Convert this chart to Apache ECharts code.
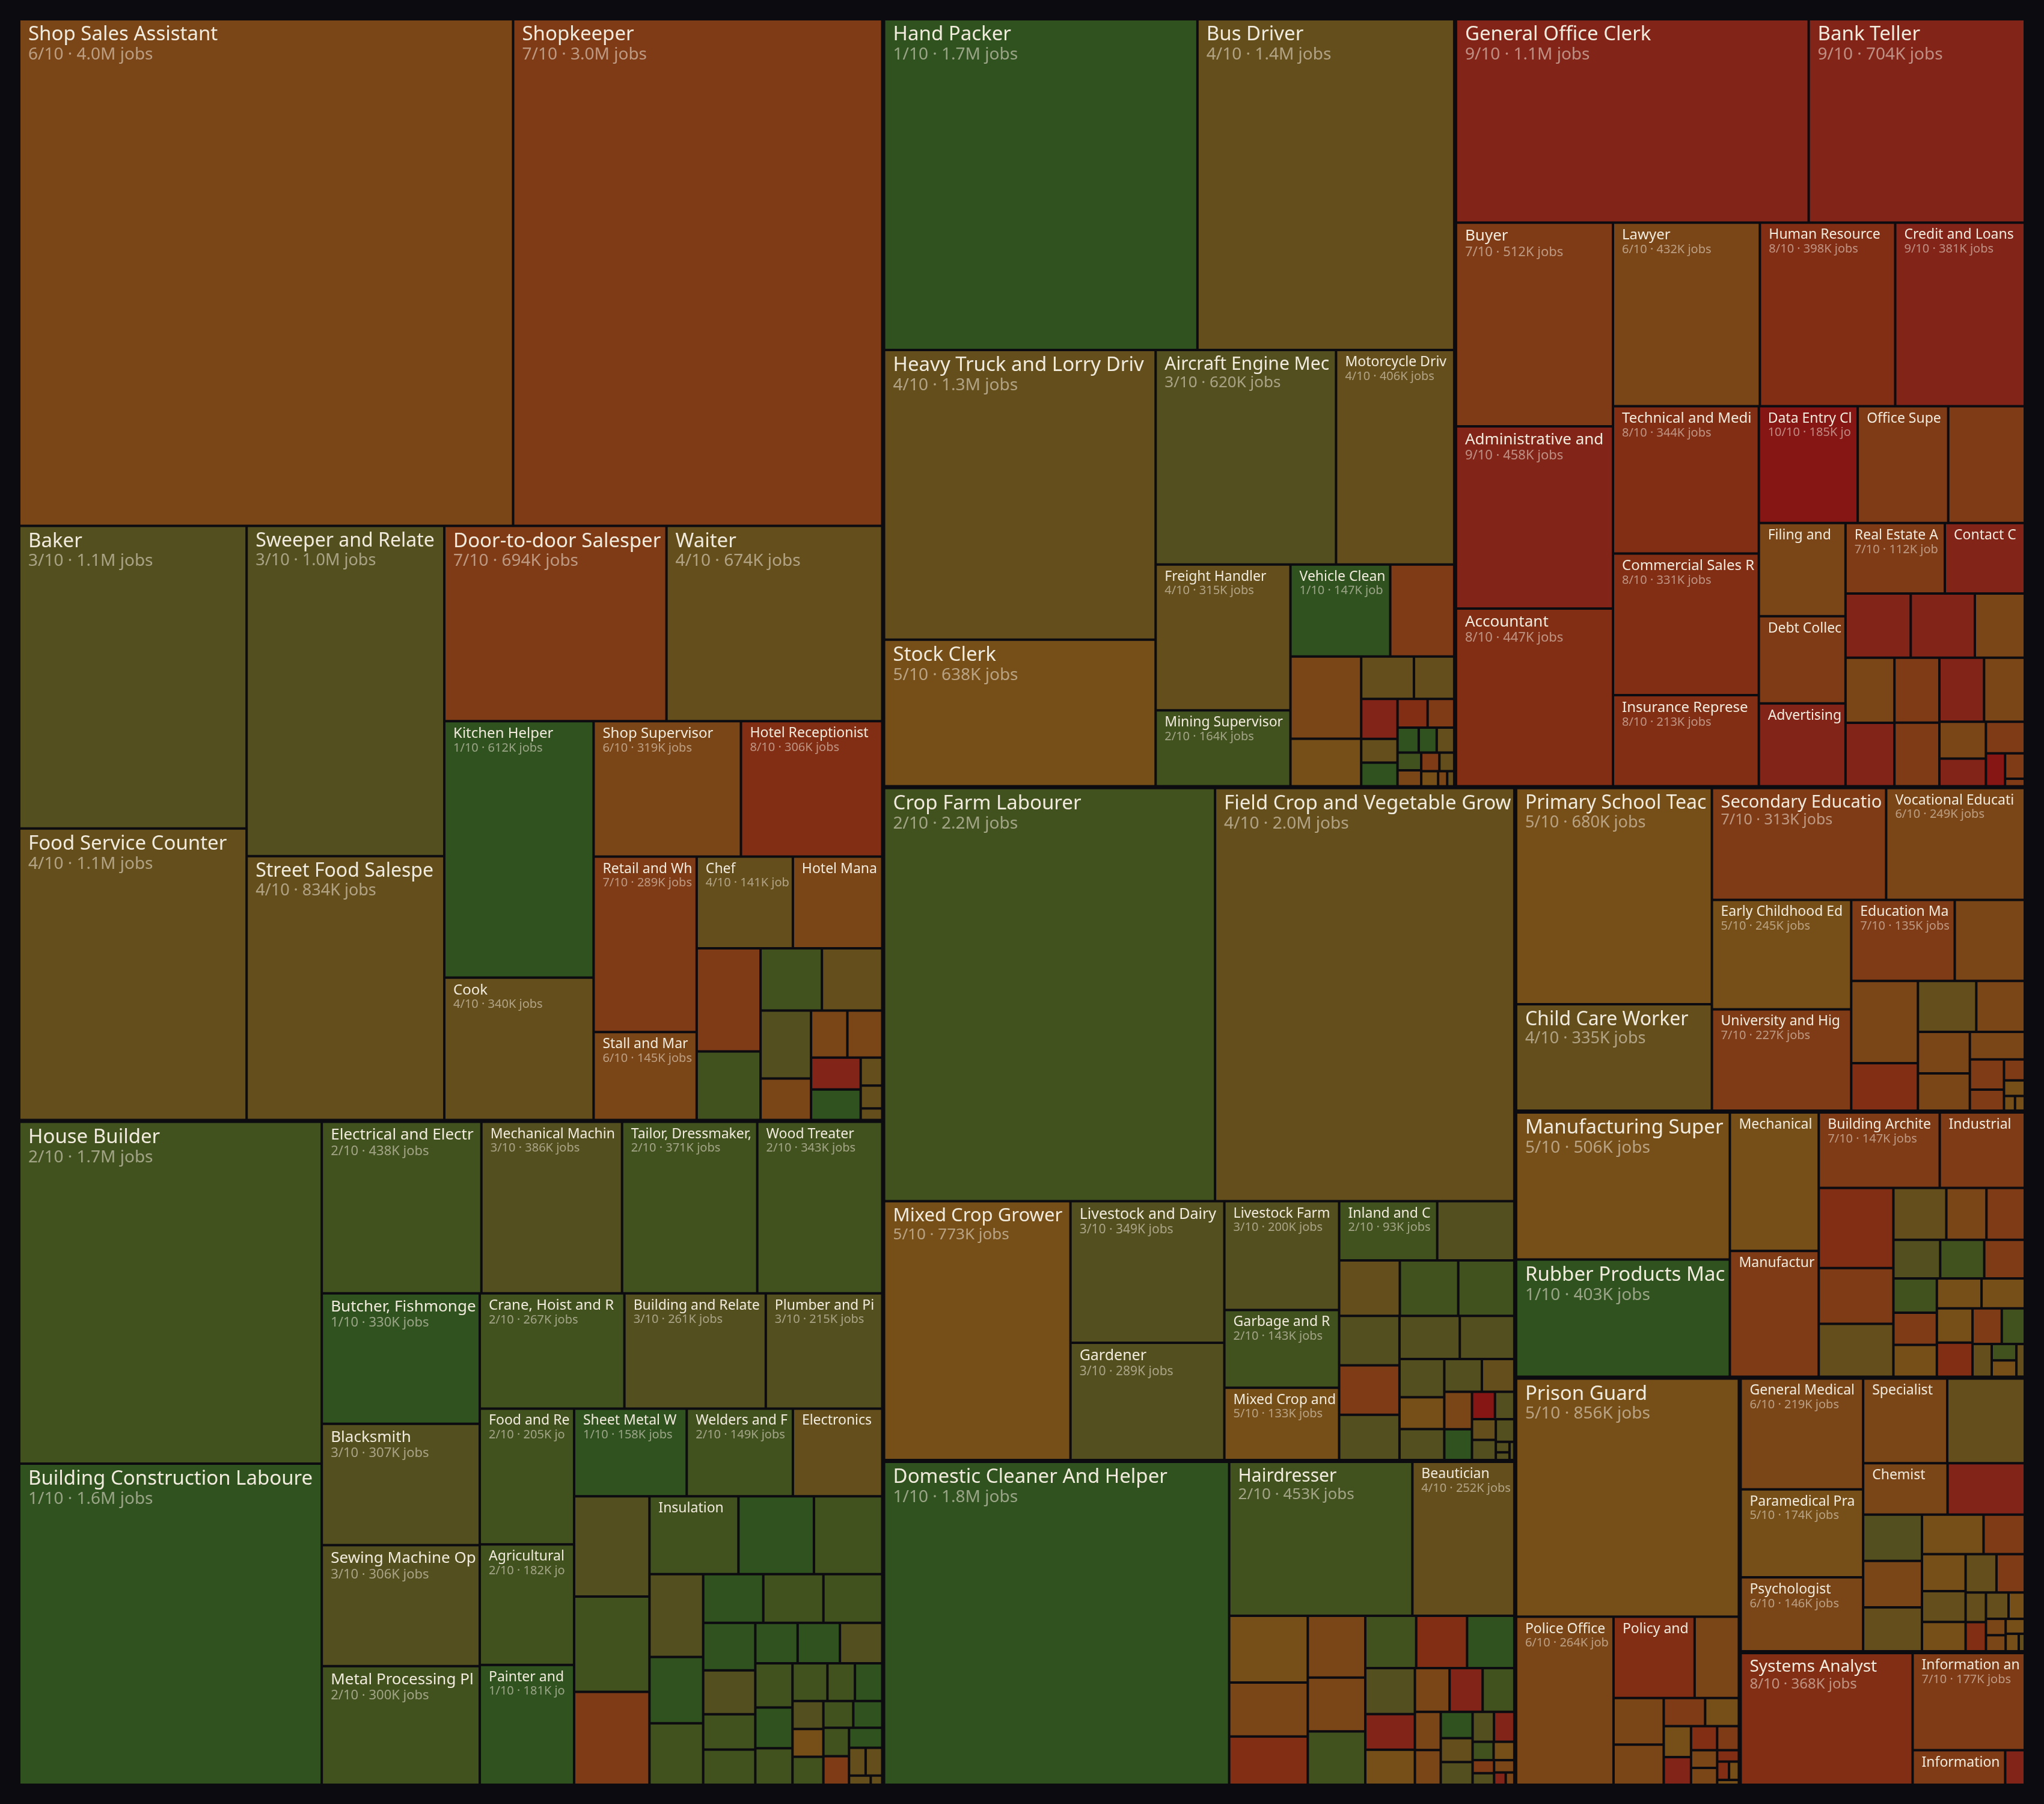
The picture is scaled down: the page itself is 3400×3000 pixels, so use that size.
<!DOCTYPE html>
<html>
<head>
<meta charset="utf-8">
<title>Jobs treemap</title>
<script src="https://cdn.jsdelivr.net/npm/echarts@6/dist/echarts.min.js"></script>
<style>
  html, body { margin: 0; padding: 0; background: #0b0b10; }
  #chart { width: 3400px; height: 3000px; }
</style>
</head>
<body>
<div id="chart"></div>
<script>
// jobs in thousands, score = exposure out of 10
const groupNames = ['Sales and Hospitality', 'Crafts and Construction', 'Transport and Logistics', 'Office and Finance',
  'Agriculture', 'Personal Services', 'Education', 'Engineering and Manufacturing', 'Public Safety', 'Health', 'Information Technology']

const salesNames = ['Shop Sales Assistant', 'Shopkeeper', 'Baker', 'Food Service Counter Attendant', 'Sweeper and Related Labourer',
  'Street Food Salesperson', 'Door-to-door Salesperson', 'Waiter', 'Kitchen Helper', 'Cook', 'Shop Supervisor', 'Hotel Receptionist',
  'Retail and Wholesale Trade Manager', 'Stall and Market Salesperson', 'Chef', 'Hotel Manager', 'Sales Demonstrator', 'Dishwasher',
  'Fast Food Preparer', 'Bartender', 'Street Vendor (Non-food)', 'Rental Salesperson', 'Sales Agent', 'Visual Merchandiser',
  'Ticket Clerk', 'Hotel Cleaner', 'Barista', 'Sommelier', 'Tour Guide']
const salesJobs = [4000, 2990, 1100, 1060, 1044, 834, 694, 674, 612, 340, 319, 306, 289, 145, 141, 131, 105.3, 70.1, 61, 60,
  54.9, 33.5, 27.4, 26.3, 25.2, 24.3, 9.6, 7.9, 4]
const salesScores = [6, 7, 3, 4, 3, 4, 7, 4, 1, 4, 6, 8, 7, 6, 4, 6, 7, 2, 2, 4, 3, 6, 6, 6, 9, 1, 4, 4, 4]

const craftNames = ['House Builder', 'Building Construction Labourer', 'Electrical and Electronic Equipment Mechanic',
  'Mechanical Machinery Assembler', 'Tailor, Dressmaker, Furrier and Hatter', 'Wood Treater',
  'Butcher, Fishmonger and Related Food Preparer', 'Blacksmith', 'Sewing Machine Operator', 'Metal Processing Plant Operator',
  'Crane, Hoist and Related Plant Operator', 'Building and Related Electrician', 'Plumber and Pipe Fitter',
  'Food and Related Products Machine Operator', 'Agricultural and Industrial Machinery Mechanic', 'Painter and Related Worker',
  'Sheet Metal Worker', 'Welders and Flamecutters', 'Electronics Mechanic', 'Concrete Placer', 'Roofer', 'Draughtsperson',
  'Insulation Worker', 'Bricklayer', 'Carpenter and Joiner', 'Motor Vehicle Mechanic', 'Stonemason', 'Floor Layer and Tile Setter',
  'Plasterer', 'Scaffolder', 'Glazier', 'Well Driller', 'Toolmaker', 'Upholsterer', 'Shoemaker', 'Machine Tool Setter',
  'Miner and Quarrier', 'Demolition Worker', 'Furniture Maker', 'Structural Steel Erector', 'Pottery Worker', 'Glass Maker',
  'Jewellery Maker', 'Road Construction Labourer', 'Weaver', 'Printing Technician', 'Musical Instrument Maker', 'Leather Worker',
  'Log Cutter', 'Sign Writer', 'Basket Maker', 'Pile Driver Operator', 'Precision Instrument Maker', 'Watch Repairer', 'Gunsmith', 'Engraver']
const craftJobs = [1655, 1555, 438, 386, 371, 343, 330, 307, 306, 300, 267, 261, 215, 205, 182, 181, 158, 149, 125.4, 121,
  115, 112, 111, 94.2, 85.2, 71.1, 57, 52.9, 46.8, 46.8, 45.8, 39.7, 36.6, 29.4, 29.4, 27.4, 27.4, 27.4, 26.3, 24.3,
  21.7, 21.1, 16.6, 16.5, 13.8, 13.8, 13.8, 12.8, 12.4, 11.7, 11.7, 10.6, 7.4, 7.4, 3.2, 1.7]
const craftScores = [2, 1, 2, 3, 2, 2, 1, 3, 3, 2, 2, 3, 3, 2, 2, 1, 1, 2, 4, 3, 2, 7, 2, 1, 2, 3, 1, 2, 2, 1, 2, 1, 3, 2, 2, 3, 1, 1, 2, 1,
  2, 2, 2, 1, 2, 5, 3, 2, 1, 7, 2, 1, 4, 4, 4, 4]

const transportNames = ['Hand Packer', 'Bus Driver', 'Heavy Truck and Lorry Driver', 'Stock Clerk', 'Aircraft Engine Mechanic',
  'Motorcycle Driver', 'Freight Handler', 'Mining Supervisor', 'Vehicle Cleaner', 'Shipping Clerk', 'Transport Clerk', 'Courier',
  'Car Driver', 'Taxi Driver', 'Dispatcher', 'Logistics Coordinator', 'Railway Track Worker', 'Train Driver', 'Air Traffic Controller',
  'Ship Deck Crew', 'Travel Steward', 'Animal-drawn Vehicle Driver', 'Forklift Operator', 'Earthmoving Plant Operator',
  'Flight Attendant', 'Ship Engineer', 'Aircraft Pilot', 'Harbour Master', 'Lifting Truck Operator']
const transportJobs = [1660, 1360, 1260, 638, 620, 406, 315, 164, 147, 94.2, 93.2, 53.9, 35.9, 27.4, 23.2, 13.8, 13.8, 13.8, 12.2,
  8.5, 6.1, 7.2, 7, 6.7, 5.4, 4.4, 4.1, 2.2, 1.7]
const transportScores = [1, 4, 4, 5, 3, 4, 4, 2, 1, 7, 6, 5, 4, 4, 9, 8, 1, 4, 7, 1, 6, 1, 4, 2, 7, 4, 5, 6, 4]

const officeNames = ['General Office Clerk', 'Bank Teller', 'Buyer', 'Administrative and Executive Secretary', 'Accountant', 'Lawyer',
  'Human Resource Manager', 'Credit and Loans Officer', 'Technical and Medical Sales Representative', 'Commercial Sales Representative',
  'Insurance Representative', 'Data Entry Clerk', 'Office Supervisor', 'Purchasing Agent', 'Filing and Copying Clerk', 'Debt Collector',
  'Real Estate Agent', 'Advertising and Marketing Professional', 'Contact Centre Information Clerk', 'Bookkeeper', 'Statistical Clerk',
  'Legal Secretary', 'Management Consultant', 'Tax Clerk', 'Financial Analyst', 'Payroll Clerk', 'Market Research Analyst', 'Auditor',
  'Public Relations Professional', 'Typist', 'Claims Clerk', 'Word Processing Operator', 'Translator', 'Actuary']
const officeJobs = [1149, 704, 512, 458, 447, 432, 398, 381, 344, 331, 213, 185, 169.3, 143.2, 129.3, 121.2, 112, 115.1, 90.2, 67.1,
  66, 51.4, 50.9, 49.8, 46.8, 45.8, 45.8, 41.7, 27.4, 20.7, 19.7, 10.1, 8, 2.4]
const officeScores = [9, 9, 7, 9, 8, 6, 8, 9, 8, 8, 8, 10, 7, 7, 6, 7, 7, 9, 9, 9, 9, 6, 6, 9, 7, 9, 7, 6, 6, 9, 7, 10, 7, 7]

const agriNames = ['Crop Farm Labourer', 'Field Crop and Vegetable Grower', 'Mixed Crop Grower', 'Livestock and Dairy Producer',
  'Gardener', 'Livestock Farm Labourer', 'Garbage and Recycling Collector', 'Mixed Crop and Animal Producer',
  'Inland and Coastal Waters Fishery Worker', 'Poultry Producer', 'Tree and Shrub Crop Grower', 'Forestry Labourer', 'Fishery Labourer',
  'Agricultural Technician', 'Subsistence Farmer', 'Nursery Grower', 'Aquaculture Worker', 'Apiarist', 'Fruit Picker', 'Horticulturist',
  'Deep-sea Fishery Worker', 'Shepherd', 'Forestry Worker', 'Agricultural Manager', 'Charcoal Maker', 'Farm Records Clerk',
  'Irrigation Worker', 'Veterinary Assistant', 'Mushroom Grower', 'Sericulture Worker', 'Gatherer', 'Seaweed Farmer', 'Pearl Diver']
const agriJobs = [2190, 1980, 773, 349, 289, 200, 143, 133, 93, 73.1, 53.9, 51.9, 49.8, 47.8, 47.8, 43.8, 41.7, 37.7, 27.4, 22.9,
  22.2, 19.7, 17, 16.6, 13.7, 10.1, 8.5, 7.9, 7.7, 6.7, 2.3, 1.7, 1.4]
const agriScores = [2, 4, 5, 3, 3, 3, 2, 5, 2, 3, 4, 2, 2, 7, 3, 3, 3, 3, 3, 5, 3, 3, 4, 6, 1, 10, 3, 4, 3, 3, 3, 3, 3]

const serviceNames = ['Domestic Cleaner And Helper', 'Hairdresser', 'Beautician', 'Personal Care Worker', 'Laundry Supervisor',
  'Travel Consultant', 'Housekeeping Supervisor', 'Fitness Instructor', 'Laundry Worker', 'Personal Assistant', 'Hand Launderer',
  'Car Washer', 'Massage Therapist', 'Event Planner', 'Tailoring Assistant', 'Funeral Director', 'Wedding Planner', 'Pet Groomer',
  'Spa Manager', 'Undertaker', 'Shoe Shiner', 'Nail Technician', 'Makeup Artist', 'Embalmer', 'Companion', 'Window Cleaner', 'Butler',
  'Valet', 'Tattoo Artist', 'Dog Walker', 'Fortune Teller', 'Chauffeur']
const serviceJobs = [1790, 453, 252, 84.2, 68.1, 61, 57, 49.8, 49.3, 42.8, 42.8, 39.7, 36.6, 28.4, 27.9, 24.3, 23.2, 22.2, 15.9,
  14.4, 13.5, 12.2, 11.6, 10.3, 9.8, 6.2, 6.1, 4.5, 4, 4, 2.3, 1.7]
const serviceScores = [1, 2, 4, 5, 6, 8, 6, 6, 2, 8, 2, 1, 3, 9, 5, 6, 9, 2, 6, 6, 1, 4, 3, 3, 9, 2, 5, 7, 6, 3, 9, 6]

const eduNames = ['Primary School Teacher', 'Child Care Worker', 'Secondary Education Teacher', 'Vocational Education Teacher',
  'Early Childhood Educator', 'University and Higher Education Teacher', 'Education Manager', 'Special Needs Teacher',
  'Language Teacher', 'Education Methods Specialist', 'Music Teacher', 'Art Teacher', 'Private Tutor', 'Teaching Assistant',
  'School Inspector', 'Librarian', 'Curriculum Developer', 'Archivist', 'Driving Instructor', 'Dance Teacher', 'Sports Coach']
const eduJobs = [680, 335, 313, 249, 245, 227, 135, 91.3, 88.2, 50.9, 47.8, 39.7, 34.6, 31.1, 24.3, 16.6, 11.5, 7, 5.2, 2.6, 2.3]
const eduScores = [5, 4, 7, 6, 5, 7, 7, 6, 6, 8, 4, 6, 6, 6, 6, 7, 7, 7, 5, 5, 5]

const engNames = ['Manufacturing Supervisor', 'Rubber Products Machine Operator', 'Mechanical Engineer', 'Manufacturing Manager',
  'Building Architect', 'Industrial and Production Engineer', 'Quality Control Inspector', 'Civil Engineer', 'Electrical Engineer',
  'Chemical Engineer', 'Production Planner', 'Mining Engineer', 'Textile Machine Operator', 'Paper Products Machine Operator',
  'Environmental Engineer', 'Chemical Plant Operator', 'Cost Estimator', 'Electronics Engineer', 'Surveyor', 'Product Designer',
  'Metallurgist', 'Technical Writer', 'Materials Engineer', 'Glass Furnace Operator', 'Cement Plant Operator', 'Packaging Designer',
  'Printing Press Operator', 'Power Plant Operator']
const engJobs = [506, 403, 198, 180, 147, 103.3, 96.3, 67.1, 63.5, 44.2, 33.5, 32, 29.1, 27.4, 25.2, 24, 22.5, 22.2, 21.5, 20.8,
  19.7, 19.5, 16.8, 13.2, 10.1, 6.5, 6.5, 4.4]
const engScores = [5, 1, 5, 7, 7, 7, 8, 7, 4, 4, 6, 7, 3, 2, 7, 2, 7, 5, 5, 5, 5, 8, 7, 2, 4, 5, 2, 4]

const safetyNames = ['Prison Guard', 'Police Officer', 'Policy and Planning Manager', 'Fire Inspector', 'Customs Officer',
  'Immigration Officer', 'Tax Inspector', 'Firefighter', 'Private Investigator', 'Government Licensing Official',
  'Social Benefits Official', 'Court Clerk', 'Detective', 'Legislator', 'Regulatory Officer', 'Election Official', 'Lifeguard', 'Bodyguard']
const safetyJobs = [856, 264, 106.3, 58, 37.7, 32.5, 18.8, 15.3, 13.6, 12.2, 10.1, 8.4, 7.5, 7.1, 4, 3.5, 2.9, 1.7]
const safetyScores = [5, 6, 8, 6, 6, 6, 7, 5, 5, 9, 8, 7, 6, 6, 8, 8, 5, 5]

const healthNames = ['General Medical Practitioner', 'Paramedical Practitioner', 'Psychologist', 'Specialist Medical Practitioner',
  'Nursing Professional', 'Chemist', 'Medical Records Technician', 'Pharmacist', 'Midwife', 'Dentist', 'Physiotherapist',
  'Medical Laboratory Technician', 'Dietitian', 'Veterinarian', 'Audiologist', 'Optometrist', 'Radiographer', 'Dental Assistant',
  'Ambulance Worker', 'Medical Coder', 'Speech Therapist', 'Traditional Medicine Practitioner', 'Pharmacy Technician',
  'Occupational Therapist', 'Community Health Worker', 'Podiatrist']
const healthJobs = [219, 174, 146, 115, 106, 70, 64, 44, 44, 41.7, 39.3, 26.3, 26, 21.8, 20.6, 19.1, 17.5, 9.7, 9.6, 9.6,
  6.9, 5.2, 5.1, 4.6, 3.7, 1.7]
const healthScores = [6, 5, 6, 6, 4, 6, 9, 6, 3, 4, 5, 7, 5, 4, 5, 4, 7, 4, 4, 8, 5, 6, 6, 5, 5, 4]

const itNames = ['Systems Analyst', 'Information and Communications Technology Manager', 'Information Security Analyst', 'Web Developer']
const itJobs = [368, 177, 52, 11]
const itScores = [8, 7, 7, 9]

// colour per score 1..10, green (low) to red (high)
const scoreColors = ['#30521f', '#42521e', '#544f1e', '#644f1c', '#764f18', '#7b4617', '#7f3a16', '#822e15', '#822418', '#851614']

const groups = [
  [salesNames, salesJobs, salesScores],
  [craftNames, craftJobs, craftScores],
  [transportNames, transportJobs, transportScores],
  [officeNames, officeJobs, officeScores],
  [agriNames, agriJobs, agriScores],
  [serviceNames, serviceJobs, serviceScores],
  [eduNames, eduJobs, eduScores],
  [engNames, engJobs, engScores],
  [safetyNames, safetyJobs, safetyScores],
  [healthNames, healthJobs, healthScores],
  [itNames, itJobs, itScores]
]

const bg = '#0b0b10'
const font = 'Noto Sans'
const padLeft = 13

const treeData = groups.map((g, gi) => ({
  name: groupNames[gi],
  children: g[0].map((n, i) => ({
    name: n,
    value: g[1][i],
    score: g[2][i],
    itemStyle: { color: scoreColors[g[2][i] - 1] }
  }))
}))

const fmtJobs = (k) => (k >= 1000 ? (k / 1000).toFixed(1) + 'M' : Math.round(k) + 'K')
const statSize = (f) => Math.round(f * 0.85)

const rich = {}
for (let f = 23; f <= 33; f++) {
  const sf = statSize(f)
  rich['n' + f] = { fontSize: f, lineHeight: Math.round(f * 1.1), color: '#f1ebdd', fontFamily: font }
  rich['s' + f] = { fontSize: sf, lineHeight: Math.round(sf * 1.08), color: 'rgba(240,232,218,0.55)', fontFamily: font }
}

// cut a label so it ends at the cell edge, like a clipped text
const measureCtx = document.createElement('canvas').getContext('2d')
function fitText(text, size, maxW) {
  measureCtx.font = size + 'px "' + font + '"'
  if (measureCtx.measureText(text).width <= maxW) return text
  let out = ''
  for (const ch of text) {
    if (measureCtx.measureText(out + ch).width > maxW) break
    out += ch
  }
  return out
}

const chart = echarts.init(document.getElementById('chart'))

// size of a cell after the treemap layout ran
function cellSize(p) {
  try {
    const data = chart.getModel().getSeriesByIndex(0).getData()
    const l = data.tree.getNodeByDataIndex(p.dataIndex).getLayout()
    if (l && l.width) return [l.width, l.height]
  } catch (e) {}
  const side = Math.sqrt(p.value * 170)
  return [side, side]
}

chart.setOption({
  backgroundColor: bg,
  animation: false,
  tooltip: { show: false },
  series: [
    {
      type: 'treemap',
      left: 34,
      top: 34,
      right: 34,
      bottom: 34,
      roam: false,
      nodeClick: false,
      squareRatio: 1,
      drillDownIcon: '',
      breadcrumb: { show: false },
      visibleMin: 0,
      upperLabel: { show: false },
      label: {
        show: true,
        position: 'insideTopLeft',
        distance: 0,
        padding: [6, 1, 0, padLeft],
        overflow: 'truncate',
        ellipsis: '',
        fontFamily: font,
        formatter: (p) => {
          if (!p.data || p.data.children) return ''
          const [w, h] = cellSize(p)
          if (w < 128 || h < 40) return ''
          const f = Math.round(Math.max(23, Math.min(33, w / 10)))
          const room = w - padLeft - 3
          let s = '{n' + f + '|' + fitText(p.name, f, room) + '}'
          if (w >= 150 && h >= 72) {
            const stat = p.data.score + '/10 · ' + fmtJobs(p.value) + ' jobs'
            s += '\n{s' + f + '|' + fitText(stat, statSize(f), room) + '}'
          }
          return s
        },
        rich: rich
      },
      levels: [
        { itemStyle: { borderWidth: 0, gapWidth: 7, borderColor: bg, color: bg } },
        { itemStyle: { borderWidth: 0, gapWidth: 4, borderColor: bg, color: bg } },
        { itemStyle: { borderWidth: 0, borderColor: bg } }
      ],
      data: treeData
    }
  ]
})
</script>
</body>
</html>
